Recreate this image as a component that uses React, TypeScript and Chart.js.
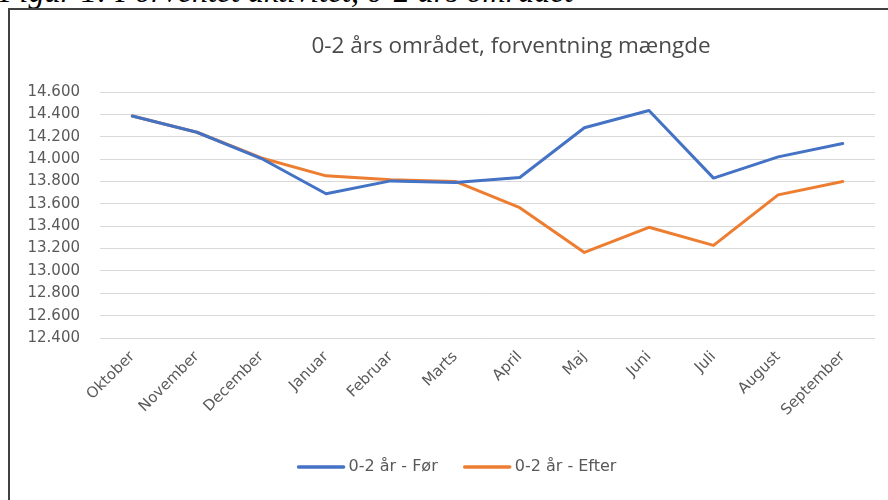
import React, { useEffect, useRef } from "react";
import { Chart, registerables } from "chart.js";

Chart.register(...registerables);

const caption = "Figur 1: Forventet aktivitet, 0-2 års området";
const chartTitle = "0-2 års området, forventning mængde";
const months = ["Oktober", "November", "December", "Januar", "Februar", "Marts", "April", "Maj", "Juni", "Juli", "August", "September"];
const forValues = [14385, 14240, 14005, 13690, 13805, 13790, 13835, 14280, 14435, 13830, 14020, 14140];
const efterValues = [14385, 14240, 14010, 13850, 13815, 13800, 13565, 13165, 13390, 13228, 13680, 13800];
const seriesNames = ["0-2 år - Før", "0-2 år - Efter"];
const seriesColors = ["#4472C4", "#ED7D31"];
const yMin = 12400;
const yMax = 14600;
const yStep = 200;

const TITLE_FONT = "'Open Sans', 'Liberation Sans', sans-serif";
const FONT = "'DejaVu Sans', 'Open Sans', sans-serif";
const TEXT_COLOR = "#595959";

function fmt(v: number): string {
  return String(Math.round(v)).replace(/\B(?=(\d{3})+(?!\d))/g, ".");
}

const overlayPlugin = {
  id: "overlay",
  afterDraw(chart: any) {
    const ctx = chart.ctx as CanvasRenderingContext2D;
    ctx.save();
    // title
    ctx.fillStyle = "#4a4a4a";
    ctx.font = `22.5px ${TITLE_FONT}`;
    ctx.textAlign = "center";
    ctx.textBaseline = "middle";
    ctx.fillText(chartTitle, 501, 37);
    // legend
    ctx.font = `16px ${FONT}`;
    ctx.textAlign = "left";
    const lineW = 47;
    const gapText = 4;
    const gapItem = 26;
    const items = chart.data.datasets.map((d: any) => ({
      label: d.label as string,
      color: d.borderColor as string,
      w: lineW + gapText + ctx.measureText(d.label).width,
    }));
    const total = items.reduce((s: number, it: any) => s + it.w, 0) + gapItem * (items.length - 1);
    let x = 447 - total / 2;
    const y = 457;
    for (const it of items) {
      ctx.strokeStyle = it.color;
      ctx.lineWidth = 3.5;
      ctx.lineCap = "round";
      ctx.beginPath();
      ctx.moveTo(x + 1, y);
      ctx.lineTo(x + lineW - 1, y);
      ctx.stroke();
      ctx.fillStyle = TEXT_COLOR;
      ctx.fillText(it.label, x + lineW + gapText, y);
      x += it.w + gapItem;
    }
    ctx.restore();
  },
};

export default function App() {
  const ref = useRef<HTMLCanvasElement | null>(null);

  useEffect(() => {
    if (!ref.current) return;
    const chart = new Chart(ref.current, {
      type: "line",
      data: {
        labels: months,
        datasets: [
          {
            label: seriesNames[0],
            data: forValues,
            borderColor: seriesColors[0],
            backgroundColor: seriesColors[0],
            borderWidth: 3,
            pointRadius: 0,
            tension: 0,
            borderCapStyle: "round",
            borderJoinStyle: "round",
          },
          {
            label: seriesNames[1],
            data: efterValues,
            borderColor: seriesColors[1],
            backgroundColor: seriesColors[1],
            borderWidth: 3,
            pointRadius: 0,
            tension: 0,
            borderCapStyle: "round",
            borderJoinStyle: "round",
          },
        ],
      },
      options: {
        animation: false,
        responsive: false,
        layout: { padding: { top: 82, right: 13, left: 0, bottom: 72 } },
        plugins: {
          legend: { display: false },
          title: { display: false },
          tooltip: { enabled: false },
        },
        scales: {
          x: {
            offset: true,
            grid: { display: false, offset: true },
            border: { display: false },
            ticks: {
              color: TEXT_COLOR,
              font: { family: FONT, size: 15 },
              minRotation: 45,
              maxRotation: 45,
              autoSkip: false,
              padding: 2,
            },
            afterFit: (s: any) => {
              s.height = 90;
            },
          },
          y: {
            min: yMin,
            max: yMax,
            grid: { color: "#d9d9d9", lineWidth: 1, drawTicks: false },
            border: { display: false },
            ticks: {
              stepSize: yStep,
              color: TEXT_COLOR,
              font: { family: FONT, size: 15 },
              padding: 20,
              callback: (v: any) => fmt(Number(v)),
            },
            afterFit: (s: any) => {
              s.width = 90;
            },
          },
        },
      },
      plugins: [overlayPlugin],
    });
    return () => chart.destroy();
  }, []);

  return (
    <div style={{ position: "fixed", left: 0, top: 0, width: 888, height: 500, overflow: "hidden", background: "#fff" }}>
      <div
        style={{
          position: "absolute",
          left: 0,
          top: -25,
          whiteSpace: "nowrap",
          fontFamily: "'Liberation Serif', 'Times New Roman', serif",
          fontStyle: "italic",
          fontSize: 32,
          lineHeight: "32px",
          color: "#000",
        }}
      >
        {caption}
      </div>
      <div
        style={{
          position: "absolute",
          left: 8,
          top: 8,
          width: 1000,
          height: 600,
          border: "2px solid #404040",
          boxSizing: "border-box",
        }}
      />
      <canvas ref={ref} width={878} height={490} style={{ position: "absolute", left: 10, top: 10, width: 878, height: 490 }} />
    </div>
  );
}
